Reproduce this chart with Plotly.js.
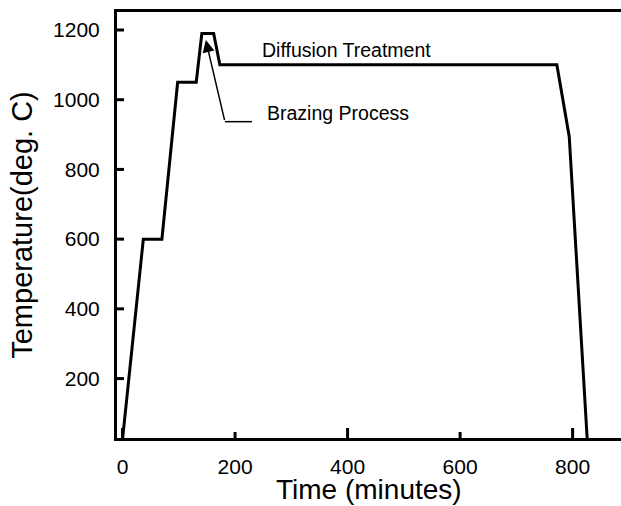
<!DOCTYPE html>
<html>
<head>
<meta charset="utf-8">
<script src="https://cdn.plot.ly/plotly-3.0.1.min.js"></script>
<style>html,body{margin:0;padding:0;background:#fff;}#chart{width:621px;height:506px;}</style>
</head>
<body>
<div id="chart"></div>
<script>
// Time (minutes) and temperature (deg. C) of the thermal cycle
var timeMin = [0, 37, 70, 98, 131, 141, 162, 173, 772, 794, 826];
var tempC   = [25, 600, 600, 1050, 1050, 1190, 1190, 1100, 1100, 894, 25];
var xTicks = [0, 200, 400, 600, 800];
var xLongTicks = [0, 400, 800];
var yTicks = [200, 400, 600, 800, 1000, 1200];

var FONT = 'Liberation Sans, Arial, Helvetica, sans-serif';
var X_RANGE = [-9.8, 886];
var Y_RANGE = [29.5, 1251.6];
var PLOT_W = 621 - 117, PLOT_H = 506 - 12 - 67.5;
var pxX = (X_RANGE[1] - X_RANGE[0]) / PLOT_W;
var pxY = (Y_RANGE[1] - Y_RANGE[0]) / PLOT_H;

// inward tick marks built from the tick values, drawn through the axes' scales
var tx = [], ty = [];
xTicks.forEach(function (v) {
  var len = xLongTicks.indexOf(v) >= 0 ? 10 : 6;
  tx.push(v, v, null);
  ty.push(Y_RANGE[0], Y_RANGE[0] + len * pxY, null);
});
yTicks.forEach(function (v) {
  tx.push(X_RANGE[0], X_RANGE[0] + 7 * pxX, null);
  ty.push(v, v, null);
});

var traces = [
  {x: timeMin, y: tempC, type: 'scatter', mode: 'lines',
   line: {color: '#000', width: 3}, hoverinfo: 'skip', showlegend: false},
  {x: tx, y: ty, type: 'scatter', mode: 'lines', connectgaps: false,
   line: {color: '#000', width: 3}, hoverinfo: 'skip', showlegend: false}
];

var layout = {
  width: 621, height: 506,
  margin: {l: 117, r: 0, t: 12, b: 67.5, pad: 0},
  paper_bgcolor: '#fff', plot_bgcolor: '#fff',
  font: {family: FONT, color: '#000'},
  showlegend: false,
  xaxis: {
    range: X_RANGE, tickmode: 'array', tickvals: xTicks, ticktext: xTicks.map(String),
    ticks: '', showline: true, linewidth: 3, linecolor: '#000', mirror: true,
    showgrid: false, zeroline: false,
    tickfont: {size: 21, family: FONT}, ticklabelstandoff: 8
  },
  yaxis: {
    range: Y_RANGE, tickmode: 'array', tickvals: yTicks, ticktext: yTicks.map(String),
    ticks: '', showline: true, linewidth: 3, linecolor: '#000', mirror: false,
    showgrid: false, zeroline: false,
    tickfont: {size: 21, family: FONT}, ticklabelstandoff: 10,
    title: {text: 'Temperature(deg. C)', font: {size: 29, family: FONT}, standoff: 12}
  },
  annotations: [
    {text: 'Time (minutes)', xref: 'paper', yref: 'paper', x: 0.5, y: 0,
     xanchor: 'center', yanchor: 'middle', yshift: -51, showarrow: false,
     borderpad: 0, font: {size: 28, family: FONT, color: '#000'}},
    {text: 'Diffusion Treatment', x: 245, y: 1143, xref: 'x', yref: 'y',
     xanchor: 'left', yanchor: 'middle', showarrow: false,
     font: {size: 19.5, family: FONT, color: '#000'}},
    {text: 'Brazing Process', x: 254, y: 963, xref: 'x', yref: 'y',
     xanchor: 'left', yanchor: 'middle', showarrow: false,
     font: {size: 19.5, family: FONT, color: '#000'}},
    {text: '', x: 148, y: 1171, xref: 'x', yref: 'y',
     ax: 182, ay: 937, axref: 'x', ayref: 'y', showarrow: true,
     arrowhead: 2, arrowsize: 1.6, arrowwidth: 1.5, arrowcolor: '#000', standoff: 0}
  ],
  shapes: [
    {type: 'line', xref: 'x', yref: 'y', x0: 182, y0: 937, x1: 230, y1: 937,
     line: {color: '#000', width: 1.5}}
  ]
};

Plotly.newPlot('chart', traces, layout, {staticPlot: true, displayModeBar: false});
</script>
</body>
</html>
